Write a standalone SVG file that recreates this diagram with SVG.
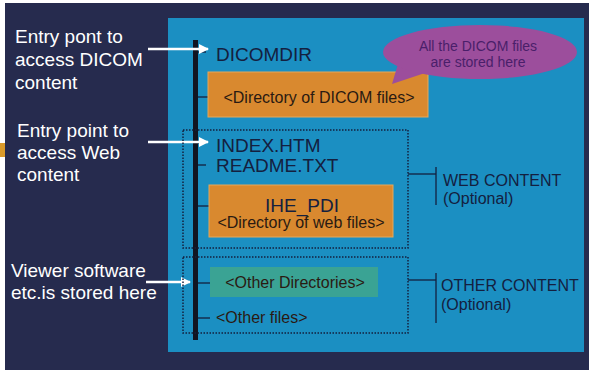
<svg xmlns="http://www.w3.org/2000/svg" width="589" height="370" viewBox="0 0 589 370">
<style>
.lbl{font-family:"Liberation Sans",Arial,sans-serif;font-size:19px;fill:#ffffff}
.file{font-family:"Liberation Sans",Arial,sans-serif;font-size:19px;fill:#14203f}
.dir{font-family:"Liberation Sans",Arial,sans-serif;font-size:16px;fill:#2a1a12}
.sm{font-family:"Liberation Sans",Arial,sans-serif;font-size:16px;fill:#14203f}
.bub{font-family:"Liberation Sans",Arial,sans-serif;font-size:14px;fill:#4a1f6a}
.tick{stroke:#14203f;stroke-width:1.3}
.dot{fill:none;stroke:#14203f;stroke-width:1.5;stroke-dasharray:1.5 1.5}
.arr{stroke:#ffffff;stroke-width:2.5;fill:none}
.orange{fill:#d9892f;stroke:#e6a85a;stroke-width:1}
</style>
<defs>
<marker id="ah" viewBox="0 0 10 10" refX="9" refY="5" markerWidth="4" markerHeight="4" orient="auto">
<path d="M0,0 L10,5 L0,10 z" fill="#ffffff"/>
</marker>
</defs>
<rect x="0" y="0" width="589" height="370" fill="#ffffff"/>
<rect x="5" y="3" width="584" height="367" fill="#262b4e"/>
<rect x="0" y="143" width="5" height="14" fill="#d99a2a"/>
<rect x="168" y="18" width="416" height="334" fill="#1b8fc2"/>

<g id="left-labels">
<text class="lbl" x="15" y="43">Entry pont to</text>
<text class="lbl" x="15" y="66">access DICOM</text>
<text class="lbl" x="15" y="89">content</text>
<text class="lbl" x="17" y="137">Entry point to</text>
<text class="lbl" x="17" y="159">access Web</text>
<text class="lbl" x="17" y="181">content</text>
<text class="lbl" x="11" y="277">Viewer software</text>
<text class="lbl" x="11" y="299">etc.is stored here</text>
</g>

<g id="connectors">
<rect x="193" y="40" width="5" height="300" fill="#111522"/>
<line class="tick" x1="198" y1="52" x2="206" y2="52"/>
<line class="tick" x1="198" y1="97" x2="208" y2="97"/>
<line class="tick" x1="198" y1="143" x2="206" y2="143"/>
<line class="tick" x1="198" y1="165" x2="206" y2="165"/>
<line class="tick" x1="198" y1="206" x2="209" y2="206"/>
<line class="tick" x1="198" y1="283" x2="210" y2="283"/>
<line class="tick" x1="198" y1="318" x2="210" y2="318"/>
<line class="arr" x1="148" y1="49" x2="208" y2="49" marker-end="url(#ah)"/>
<line class="arr" x1="148" y1="142" x2="208" y2="142" marker-end="url(#ah)"/>
<line class="arr" x1="146" y1="282" x2="190" y2="282" marker-end="url(#ah)"/>
<line class="tick" x1="408" y1="174" x2="436" y2="174"/>
<line class="tick" x1="436" y1="167" x2="436" y2="205"/>
<line class="tick" x1="408" y1="280" x2="436" y2="280"/>
<line class="tick" x1="436" y1="273" x2="436" y2="323"/>
</g>

<g id="dicomdir"><text class="file" x="216" y="61">DICOMDIR</text></g>

<g id="dicom-dir">
<rect class="orange" x="208" y="72" width="220" height="45"/>
<text class="dir" x="319" y="103" text-anchor="middle">&lt;Directory of DICOM files&gt;</text>
</g>

<g id="bubble">
<path d="M398,64 L392,84 L428,72 Z" fill="#9c4e9c"/>
<ellipse cx="480" cy="52" rx="97" ry="27" fill="#9c4e9c"/>
<text class="bub" x="478" y="51" text-anchor="middle">All the DICOM files</text>
<text class="bub" x="478" y="67" text-anchor="middle">are stored here</text>
</g>

<g id="web-group">
<rect class="dot" x="183" y="130" width="225" height="118"/>
<text class="file" x="216" y="152">INDEX.HTM</text>
<text class="file" x="216" y="172">README.TXT</text>
</g>

<g id="ihe-pdi">
<rect class="orange" x="209" y="185" width="184" height="52"/>
<text class="file" x="302" y="212" text-anchor="middle">IHE_PDI</text>
<text class="dir" x="301" y="228" text-anchor="middle">&lt;Directory of web files&gt;</text>
</g>

<g id="web-content">
<text class="sm" x="443" y="186">WEB CONTENT</text>
<text class="sm" x="443" y="204">(Optional)</text>
</g>

<g id="other-group">
<rect class="dot" x="183" y="257" width="225" height="76"/>
</g>

<g id="other-dirs">
<rect x="210" y="267" width="168" height="30" fill="#3aa394"/>
<text class="dir" x="295" y="288" text-anchor="middle">&lt;Other Directories&gt;</text>
</g>

<g id="other-files"><text class="dir" x="216" y="323">&lt;Other files&gt;</text></g>

<g id="other-content">
<text class="sm" x="441" y="291">OTHER CONTENT</text>
<text class="sm" x="441" y="310">(Optional)</text>
</g>
</svg>
